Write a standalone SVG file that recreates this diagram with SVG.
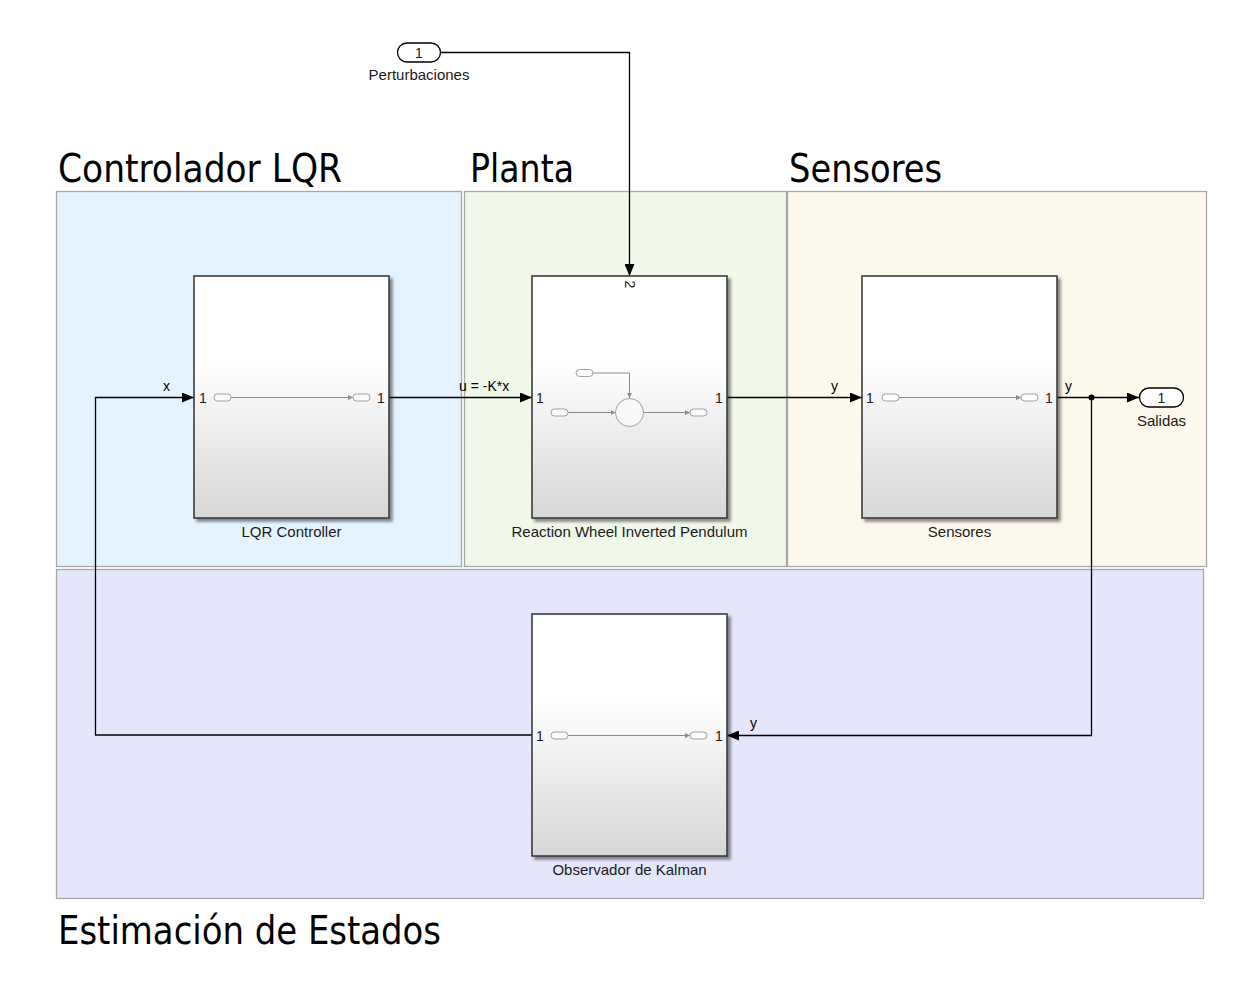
<svg xmlns="http://www.w3.org/2000/svg" width="1236" height="988" viewBox="0 0 1236 988">
<defs>
<linearGradient id="blk" x1="0" y1="0" x2="0" y2="1">
<stop offset="0" stop-color="#ffffff"/>
<stop offset="0.35" stop-color="#ffffff"/>
<stop offset="1" stop-color="#d7d7d7"/>
</linearGradient>
<filter id="sh" x="-10%" y="-10%" width="130%" height="130%">
<feGaussianBlur in="SourceAlpha" stdDeviation="1.5"/>
<feOffset dx="2.5" dy="2.5" result="b"/>
<feComponentTransfer><feFuncA type="linear" slope="0.45"/></feComponentTransfer>
<feMerge><feMergeNode/><feMergeNode in="SourceGraphic"/></feMerge>
</filter>
<marker id="ar" viewBox="0 0 12 10" refX="12" refY="5" markerWidth="12" markerHeight="10" markerUnits="userSpaceOnUse" orient="auto">
<path d="M0,0 L12,5 L0,10 z" fill="#000"/>
</marker>
<marker id="ai" viewBox="0 0 6 6" refX="6" refY="3" markerWidth="5" markerHeight="5" markerUnits="userSpaceOnUse" orient="auto">
<path d="M0,0 L6,3 L0,6 z" fill="#8c8c8c"/>
</marker>
</defs>
<style>
.area{stroke:#a8a8a8;stroke-width:1.3}
.title{font-family:"DejaVu Sans Condensed","DejaVu Sans",sans-serif;font-size:39px;fill:#000}
.blk{fill:url(#blk);stroke:#3c3c3c;stroke-width:1.6;filter:url(#sh)}
.lbl{font-family:"Liberation Sans",Arial,sans-serif;font-size:15px;fill:#1a1a1a;text-anchor:middle}
.pn{font-family:"Liberation Sans",Arial,sans-serif;font-size:14px;fill:#1a1a1a;text-anchor:middle}
.sig{font-family:"Liberation Sans",Arial,sans-serif;font-size:14px;fill:#000}
.wire{fill:none;stroke:#000;stroke-width:1.3}
.pill{fill:#fbfbfb;stroke:#a0a0a0;stroke-width:1}
.iw{fill:none;stroke:#8c8c8c;stroke-width:1}
.io{fill:#fff;stroke:#000;stroke-width:1.3}
</style>
<rect width="1236" height="988" fill="#ffffff"/>

<g id="area-lqr">
<rect class="area" x="56.5" y="191.5" width="405" height="375" fill="#e5f3ff"/>
<text class="title" x="58" y="182" textLength="284" lengthAdjust="spacingAndGlyphs">Controlador LQR</text>
</g>
<g id="area-planta">
<rect class="area" x="464.5" y="191.5" width="322" height="375" fill="#f1f8ea"/>
<text class="title" x="470" y="182" textLength="104" lengthAdjust="spacingAndGlyphs">Planta</text>
</g>
<g id="area-sensores">
<rect class="area" x="787.5" y="191.5" width="419" height="375" fill="#fcf9ec"/>
<text class="title" x="789" y="182" textLength="153" lengthAdjust="spacingAndGlyphs">Sensores</text>
</g>
<g id="area-estimacion">
<rect class="area" x="56.5" y="569.5" width="1147" height="329" fill="#e5e5fc"/>
<text class="title" x="58" y="944" textLength="383" lengthAdjust="spacingAndGlyphs">Estimación de Estados</text>
</g>

<g id="connectors">
<path class="wire" d="M532,735 H95.5 V397.5 H194" marker-end="url(#ar)"/>
<text class="sig" x="163" y="391">x</text>
<path class="wire" d="M389,397.5 H532" marker-end="url(#ar)"/>
<text class="sig" x="459" y="391">u = -K*x</text>
<path class="wire" d="M727,397.5 H862" marker-end="url(#ar)"/>
<text class="sig" x="831" y="391">y</text>
<path class="wire" d="M1057,397.5 H1139" marker-end="url(#ar)"/>
<text class="sig" x="1065" y="391">y</text>
<path class="wire" d="M1091.5,397.5 V735.5 H727" marker-end="url(#ar)"/>
<text class="sig" x="750" y="728">y</text>
<circle cx="1091.5" cy="397.5" r="3" fill="#000"/>
<path class="wire" d="M441,52.5 H629.5 V276" marker-end="url(#ar)"/>
</g>

<g id="in-perturbaciones">
<rect class="io" x="397.5" y="43" width="43" height="19" rx="9.5"/>
<text class="pn" x="419" y="57.5">1</text>
<text class="lbl" x="419" y="80">Perturbaciones</text>
</g>

<g id="out-salidas">
<rect class="io" x="1139.5" y="388" width="44" height="19" rx="9.5"/>
<text class="pn" x="1161.5" y="402.5">1</text>
<text class="lbl" x="1161.5" y="426">Salidas</text>
</g>

<g id="lqr-controller">
<rect class="blk" x="194" y="276" width="195" height="242"/>
<rect class="pill" x="214" y="394" width="17" height="7" rx="3.5"/>
<path class="iw" d="M231,397.5 H353" marker-end="url(#ai)"/>
<rect class="pill" x="353" y="394" width="17" height="7" rx="3.5"/>
<text class="pn" x="203" y="402.5">1</text>
<text class="pn" x="381" y="402.5">1</text>
<text class="lbl" x="291.5" y="537">LQR Controller</text>
</g>

<g id="reaction-wheel">
<rect class="blk" x="532" y="276" width="195" height="242"/>
<rect class="pill" x="576" y="369.5" width="17" height="7" rx="3.5"/>
<path class="iw" d="M593,373 H629.5 V398" marker-end="url(#ai)"/>
<rect class="pill" x="551" y="409" width="17" height="7" rx="3.5"/>
<path class="iw" d="M568,412.5 H615.5" marker-end="url(#ai)"/>
<circle cx="629.5" cy="412.5" r="14" fill="#f8f8f8" stroke="#a0a0a0" stroke-width="1"/>
<path class="iw" d="M643.5,412.5 H690" marker-end="url(#ai)"/>
<rect class="pill" x="690" y="409" width="17" height="7" rx="3.5"/>
<text class="pn" x="540" y="402.5">1</text>
<text class="pn" x="719" y="402.5">1</text>
<text class="pn" transform="translate(629.5,284.5) rotate(90)" y="5">2</text>
<text class="lbl" x="629.5" y="537">Reaction Wheel Inverted Pendulum</text>
</g>

<g id="sensores">
<rect class="blk" x="862" y="276" width="195" height="242"/>
<rect class="pill" x="882" y="394" width="17" height="7" rx="3.5"/>
<path class="iw" d="M899,397.5 H1021" marker-end="url(#ai)"/>
<rect class="pill" x="1021" y="394" width="17" height="7" rx="3.5"/>
<text class="pn" x="870" y="402.5">1</text>
<text class="pn" x="1049" y="402.5">1</text>
<text class="lbl" x="959.5" y="537">Sensores</text>
</g>

<g id="observador-kalman">
<rect class="blk" x="532" y="614" width="195" height="242"/>
<rect class="pill" x="551" y="732" width="17" height="7" rx="3.5"/>
<path class="iw" d="M568,735.5 H690" marker-end="url(#ai)"/>
<rect class="pill" x="690" y="732" width="17" height="7" rx="3.5"/>
<text class="pn" x="540" y="740.5">1</text>
<text class="pn" x="719" y="740.5">1</text>
<text class="lbl" x="629.5" y="875">Observador de Kalman</text>
</g>
</svg>
